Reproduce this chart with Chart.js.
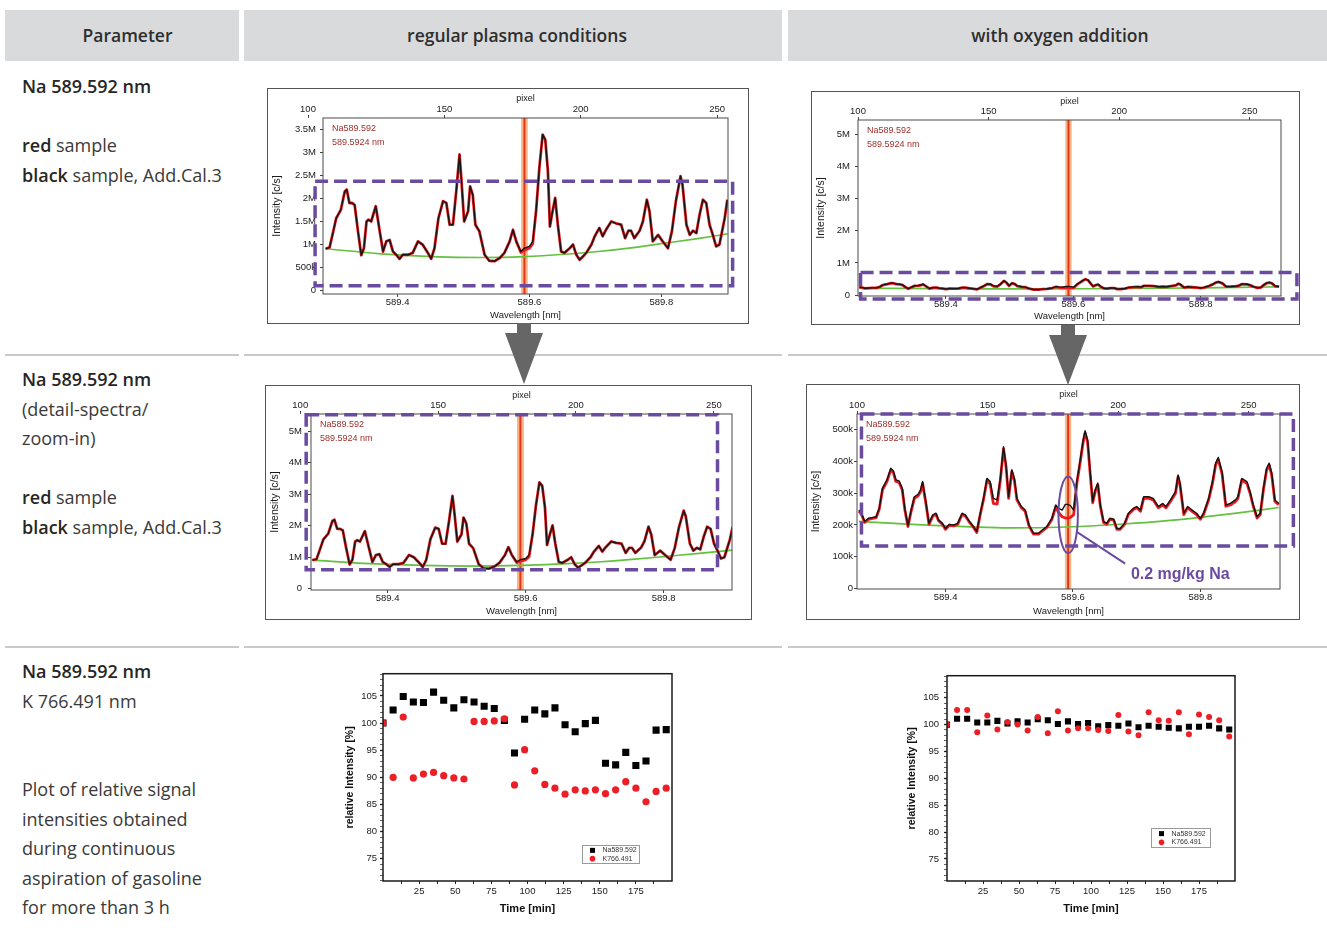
<!DOCTYPE html>
<html>
<head>
<meta charset="utf-8">
<title>Na 589.592 nm - regular plasma vs. oxygen addition</title>
<script src="https://cdn.jsdelivr.net/npm/chart.js@4.4.1/dist/chart.umd.min.js"></script>
<style>
  body { margin: 0; background: #fff; }
  #page { position: relative; width: 1327px; height: 931px; overflow: hidden; font-family: "Open Sans", sans-serif; color: #3a3a3a; }
  .head { position: absolute; top: 10px; height: 51px; line-height: 50px; background: #d9dadb; text-align: center; font-size: 17.5px; font-weight: 600; color: #2e2e2e; box-sizing: border-box; }
  .rule { position: absolute; height: 2px; background: #c9c9c9; }
  .cell { position: absolute; left: 22px; font-size: 18px; line-height: 29.5px; white-space: nowrap; }
  .cell b { font-weight: 600; color: #262626; }
  canvas { position: absolute; }
  svg { position: absolute; left: 0; top: 0; pointer-events: none; }
</style>
</head>
<body>
<div id="page">
  <div class="head" style="left:5px;width:234px;padding-left:11px">Parameter</div>
  <div class="head" style="left:244px;width:538px;padding-left:8px">regular plasma conditions</div>
  <div class="head" style="left:788px;width:539px;padding-left:5px">with oxygen addition</div>

  <div class="rule" style="left:5px;top:354px;width:234px"></div>
  <div class="rule" style="left:244px;top:354px;width:538px"></div>
  <div class="rule" style="left:788px;top:354px;width:539px"></div>
  <div class="rule" style="left:5px;top:646px;width:234px"></div>
  <div class="rule" style="left:244px;top:646px;width:538px"></div>
  <div class="rule" style="left:788px;top:646px;width:539px"></div>

  <div class="cell" style="top:72px"><b>Na 589.592 nm</b><br><br><b>red</b> sample<br><b>black</b> sample, Add.Cal.3</div>
  <div class="cell" style="top:365px"><b>Na 589.592 nm</b><br>(detail-spectra/<br>zoom-in)<br><br><b>red</b> sample<br><b>black</b> sample, Add.Cal.3</div>
  <div class="cell" style="top:657px"><b>Na 589.592 nm</b><br>K 766.491 nm<br><br><br>Plot of relative signal<br>intensities obtained<br>during continuous<br>aspiration of gasoline<br>for more than 3 h</div>

  <canvas id="p1" width="482" height="236" style="left:267px;top:88px"></canvas>
  <canvas id="p2" width="489" height="234" style="left:811px;top:91px"></canvas>
  <canvas id="p3" width="487" height="235" style="left:265px;top:385px"></canvas>
  <canvas id="p4" width="494" height="236" style="left:806px;top:384px"></canvas>
  <canvas id="p5" width="340" height="255" style="left:340px;top:665px"></canvas>
  <canvas id="p6" width="340" height="255" style="left:900px;top:665px"></canvas>

  <svg width="1327" height="931">
    <path d="M517 323H531V333H543L524 384L505 333H517Z" fill="#666"/>
    <path d="M1061 325H1075V335H1087L1068 385L1049 335H1061Z" fill="#666"/>
  </svg>
</div>

<script>
// regular plasma: wavelength [nm] and intensity [c/s]
const regWl = [589.291, 589.297, 589.302, 589.307, 589.314, 589.320, 589.323, 589.327, 589.331, 589.335,
  589.340, 589.345, 589.349, 589.353, 589.356, 589.360, 589.367, 589.373, 589.378, 589.383,
  589.388, 589.393, 589.398, 589.403, 589.408, 589.416, 589.423, 589.431, 589.438, 589.446,
  589.451, 589.456, 589.462, 589.469, 589.474, 589.479, 589.484, 589.489, 589.494, 589.497,
  589.501, 589.507, 589.510, 589.514, 589.518, 589.524, 589.532, 589.539, 589.547, 589.555,
  589.562, 589.570, 589.575, 589.580, 589.587, 589.592, 589.600, 589.605, 589.610, 589.615,
  589.620, 589.624, 589.628, 589.631, 589.635, 589.639, 589.643, 589.648, 589.653, 589.661,
  589.666, 589.671, 589.676, 589.681, 589.686, 589.694, 589.699, 589.706, 589.711, 589.716,
  589.724, 589.731, 589.739, 589.745, 589.750, 589.754, 589.759, 589.767, 589.772, 589.778,
  589.782, 589.787, 589.795, 589.802, 589.810, 589.816, 589.822, 589.829, 589.832, 589.838,
  589.843, 589.848, 589.853, 589.858, 589.863, 589.868, 589.873, 589.878, 589.883, 589.888,
  589.896, 589.900];
const regBlack = [0.91e6, 0.94e6, 1.25e6, 1.57e6, 1.75e6, 2.15e6, 2.19e6, 1.90e6, 1.90e6, 1.86e6,
  1.29e6, 0.77e6, 0.92e6, 1.50e6, 1.54e6, 1.50e6, 1.83e6, 1.29e6, 0.85e6, 1.07e6,
  1.10e6, 0.85e6, 0.78e6, 0.69e6, 0.78e6, 0.78e6, 0.82e6, 1.07e6, 1.00e6, 0.82e6,
  0.69e6, 0.92e6, 1.57e6, 1.94e6, 1.90e6, 1.43e6, 1.43e6, 2.15e6, 2.95e6, 2.37e6,
  1.50e6, 1.72e6, 2.26e6, 2.08e6, 1.43e6, 1.29e6, 0.78e6, 0.65e6, 0.64e6, 0.71e6,
  0.82e6, 1.07e6, 1.32e6, 1.07e6, 0.85e6, 0.92e6, 0.96e6, 1.07e6, 1.72e6, 2.66e6,
  3.38e6, 3.27e6, 2.58e6, 1.39e6, 1.72e6, 2.01e6, 1.43e6, 0.85e6, 0.82e6, 0.92e6,
  1.00e6, 0.78e6, 0.67e6, 0.74e6, 0.82e6, 1.00e6, 1.18e6, 1.36e6, 1.18e6, 1.32e6,
  1.50e6, 1.46e6, 1.43e6, 1.14e6, 1.30e6, 1.30e6, 1.14e6, 1.30e6, 1.50e6, 1.97e6,
  1.72e6, 1.07e6, 1.21e6, 1.07e6, 0.92e6, 1.29e6, 1.94e6, 2.48e6, 2.30e6, 1.43e6,
  1.21e6, 1.30e6, 1.25e6, 1.65e6, 1.97e6, 1.90e6, 1.43e6, 1.21e6, 0.96e6, 1.00e6,
  1.57e6, 1.97e6];
const regRed = [0.91e6, 0.94e6, 1.25e6, 1.57e6, 1.75e6, 2.15e6, 2.19e6, 1.90e6, 1.90e6, 1.86e6,
  1.29e6, 0.77e6, 0.92e6, 1.50e6, 1.54e6, 1.50e6, 1.83e6, 1.29e6, 0.85e6, 1.07e6,
  1.10e6, 0.85e6, 0.78e6, 0.69e6, 0.78e6, 0.78e6, 0.82e6, 1.07e6, 1.00e6, 0.82e6,
  0.69e6, 0.92e6, 1.57e6, 1.94e6, 1.90e6, 1.43e6, 1.43e6, 2.15e6, 2.95e6, 2.37e6,
  1.50e6, 1.72e6, 2.26e6, 2.08e6, 1.43e6, 1.29e6, 0.78e6, 0.65e6, 0.64e6, 0.71e6,
  0.82e6, 1.07e6, 1.32e6, 1.07e6, 0.83e6, 0.88e6, 0.92e6, 1.02e6, 1.72e6, 2.66e6,
  3.38e6, 3.27e6, 2.58e6, 1.39e6, 1.72e6, 2.01e6, 1.43e6, 0.85e6, 0.82e6, 0.92e6,
  1.00e6, 0.78e6, 0.67e6, 0.74e6, 0.82e6, 1.00e6, 1.18e6, 1.36e6, 1.18e6, 1.32e6,
  1.50e6, 1.46e6, 1.43e6, 1.14e6, 1.30e6, 1.30e6, 1.14e6, 1.30e6, 1.50e6, 1.97e6,
  1.72e6, 1.07e6, 1.21e6, 1.07e6, 0.92e6, 1.29e6, 1.94e6, 2.48e6, 2.30e6, 1.43e6,
  1.21e6, 1.30e6, 1.25e6, 1.65e6, 1.97e6, 1.90e6, 1.43e6, 1.21e6, 0.96e6, 1.00e6,
  1.57e6, 1.97e6];
const regBaseWl = [589.291, 589.375, 589.451, 589.527, 589.592, 589.653, 589.704, 589.754, 589.805, 589.855, 589.900];
const regBase = [0.91e6, 0.80e6, 0.74e6, 0.72e6, 0.74e6, 0.79e6, 0.85e6, 0.93e6, 1.03e6, 1.13e6, 1.23e6];

// with oxygen addition
const oxyWl = [589.264, 589.268, 589.273, 589.279, 589.284, 589.291, 589.296, 589.301, 589.308, 589.314,
  589.318, 589.322, 589.327, 589.332, 589.336, 589.341, 589.346, 589.351, 589.357, 589.361,
  589.364, 589.369, 589.374, 589.380, 589.385, 589.389, 589.395, 589.400, 589.406, 589.413,
  589.419, 589.426, 589.431, 589.437, 589.444, 589.449, 589.454, 589.460, 589.465, 589.470,
  589.475, 589.481, 589.486, 589.491, 589.495, 589.499, 589.504, 589.508, 589.512, 589.519,
  589.525, 589.531, 589.538, 589.546, 589.552, 589.559, 589.567, 589.573, 589.577, 589.583,
  589.588, 589.592, 589.596, 589.601, 589.606, 589.611, 589.616, 589.619, 589.623, 589.627,
  589.631, 589.635, 589.639, 589.643, 589.648, 589.653, 589.658, 589.664, 589.669, 589.674,
  589.681, 589.687, 589.695, 589.700, 589.706, 589.711, 589.719, 589.726, 589.734, 589.741,
  589.746, 589.753, 589.761, 589.765, 589.768, 589.774, 589.780, 589.787, 589.794, 589.800,
  589.805, 589.813, 589.819, 589.824, 589.828, 589.834, 589.840, 589.847, 589.855, 589.859,
  589.865, 589.873, 589.878, 589.883, 589.889, 589.894, 589.899, 589.904, 589.908, 589.912,
  589.917, 589.923];
const oxyBlack = [247e3, 237e3, 211e3, 221e3, 223e3, 226e3, 253e3, 316e3, 342e3, 379e3,
  371e3, 342e3, 339e3, 316e3, 253e3, 198e3, 247e3, 289e3, 297e3, 311e3,
  337e3, 274e3, 205e3, 232e3, 237e3, 216e3, 205e3, 189e3, 202e3, 200e3,
  205e3, 237e3, 232e3, 213e3, 195e3, 179e3, 232e3, 289e3, 347e3, 337e3,
  284e3, 279e3, 347e3, 447e3, 389e3, 289e3, 374e3, 347e3, 284e3, 258e3,
  247e3, 200e3, 174e3, 174e3, 184e3, 195e3, 221e3, 263e3, 253e3, 247e3,
  265e3, 265e3, 261e3, 247e3, 337e3, 400e3, 468e3, 497e3, 468e3, 368e3,
  274e3, 311e3, 332e3, 263e3, 211e3, 205e3, 221e3, 218e3, 189e3, 189e3,
  205e3, 237e3, 253e3, 258e3, 247e3, 289e3, 289e3, 284e3, 258e3, 268e3,
  258e3, 279e3, 305e3, 358e3, 332e3, 237e3, 258e3, 247e3, 237e3, 221e3,
  237e3, 284e3, 337e3, 395e3, 413e3, 368e3, 263e3, 268e3, 279e3, 289e3,
  347e3, 337e3, 305e3, 263e3, 226e3, 237e3, 316e3, 379e3, 395e3, 363e3,
  279e3, 268e3];
const oxyRed = [244e3, 234e3, 208e3, 218e3, 220e3, 223e3, 250e3, 311e3, 337e3, 373e3,
  366e3, 337e3, 334e3, 311e3, 249e3, 195e3, 243e3, 284e3, 292e3, 306e3,
  331e3, 270e3, 202e3, 228e3, 233e3, 213e3, 202e3, 186e3, 199e3, 197e3,
  202e3, 233e3, 228e3, 210e3, 192e3, 176e3, 228e3, 284e3, 341e3, 330e3,
  268e3, 266e3, 341e3, 440e3, 383e3, 284e3, 368e3, 341e3, 279e3, 254e3,
  243e3, 197e3, 171e3, 171e3, 181e3, 192e3, 218e3, 258e3, 240e3, 226e3,
  222e3, 221e3, 224e3, 232e3, 330e3, 393e3, 461e3, 490e3, 461e3, 362e3,
  270e3, 306e3, 327e3, 259e3, 208e3, 202e3, 218e3, 215e3, 186e3, 186e3,
  202e3, 233e3, 249e3, 254e3, 243e3, 284e3, 284e3, 279e3, 254e3, 263e3,
  254e3, 274e3, 300e3, 352e3, 327e3, 233e3, 254e3, 243e3, 233e3, 218e3,
  233e3, 279e3, 331e3, 389e3, 407e3, 362e3, 259e3, 263e3, 274e3, 284e3,
  341e3, 331e3, 300e3, 259e3, 222e3, 233e3, 311e3, 373e3, 389e3, 357e3,
  274e3, 264e3];
const oxyBaseWl = [589.264, 589.32, 589.38, 589.44, 589.50, 589.56, 589.62, 589.68, 589.74, 589.80, 589.86, 589.923];
const oxyBase = [211e3, 205e3, 199e3, 194e3, 191e3, 192e3, 196e3, 203e3, 212e3, 224e3, 238e3, 255e3];

// relative intensity [%] during 3 h of gasoline aspiration
const timeMin = [0, 7, 14, 21, 28, 35, 42, 49, 56, 63, 70, 77, 84, 91, 98, 105, 112, 119, 126, 133, 140, 147, 154, 161, 168, 175, 182, 189, 196];
const regNa = [100, 102.4, 104.9, 103.9, 103.8, 105.7, 104.2, 102.8, 104.3, 103.9, 103.1, 102.7, 100.5, 94.5, 100.7, 102.4, 101.7, 102.8, 99.7, 98.4, 99.9, 100.5, 92.6, 92.3, 94.6, 92.2, 93.0, 98.7, 98.8];
const regK = [100, 90.0, 101.1, 89.9, 90.6, 90.9, 90.3, 89.9, 89.7, 100.3, 100.3, 100.4, 100.8, 88.6, 95.1, 91.2, 88.7, 88.0, 86.9, 87.7, 87.5, 87.7, 87.0, 87.7, 89.2, 88.0, 85.5, 87.4, 88.0];
const oxyNa = [100, 101.1, 101.1, 100.4, 100.4, 100.7, 100.2, 100.6, 100.4, 101.0, 100.8, 100.1, 100.6, 100.1, 100.3, 99.7, 99.9, 99.8, 100.2, 99.5, 99.8, 99.6, 99.4, 99.3, 99.6, 99.6, 99.8, 99.3, 99.1];
const oxyK = [100, 102.7, 102.7, 98.6, 101.7, 99.1, 100.5, 100.0, 98.9, 101.4, 98.4, 102.5, 98.9, 99.3, 99.3, 99.0, 98.8, 101.8, 98.7, 98.0, 102.3, 100.8, 100.7, 102.3, 98.2, 101.9, 101.4, 100.8, 97.8];

// tick labels
const wlTicks = [589.4, 589.6, 589.8];
const pixelTicks = [100, 150, 200, 250];
const ticks35M = [0, 0.5e6, 1e6, 1.5e6, 2e6, 2.5e6, 3e6, 3.5e6];
const ticks5M = [0, 1e6, 2e6, 3e6, 4e6, 5e6];
const ticks500k = [0, 1e5, 2e5, 3e5, 4e5, 5e5];
const timeTicks = [25, 50, 75, 100, 125, 150, 175];
const relTicks = [75, 80, 85, 90, 95, 100, 105];

const FONT = "'Liberation Sans', Arial, Helvetica, sans-serif";
const PURPLE = '#6a4b9f';
Chart.defaults.font.family = FONT;
Chart.defaults.color = '#222';

function pts(xs, ys) {
  return xs.map((x, i) => ({ x: x, y: ys[i] }));
}

function fmtInt(v) {
  if (v === 0) return '0';
  if (v >= 1e6) return (v / 1e6) + 'M';
  return (v / 1e3) + 'k';
}

// line marker, labels, frames and the purple highlights
const marks = {
  id: 'marks',
  beforeDatasetsDraw(chart, args, o) {
    const { ctx, chartArea: a } = chart;
    const x = chart.scales.x;
    ctx.save();
    if (o.band) {
      const b0 = x.getPixelForValue(o.band[0]), b1 = x.getPixelForValue(o.band[1]);
      ctx.fillStyle = '#f9b684';
      ctx.fillRect(b0, a.top, b1 - b0, a.bottom - a.top);
      const xl = x.getPixelForValue(o.line);
      ctx.strokeStyle = '#e5341d';
      ctx.lineWidth = 2;
      ctx.beginPath();
      ctx.moveTo(xl, a.top);
      ctx.lineTo(xl, a.bottom);
      ctx.stroke();
    }
    if (o.labels) {
      ctx.fillStyle = '#a1302b';
      ctx.font = '9px ' + FONT;
      ctx.textBaseline = 'middle';
      o.labels.forEach((t, i) => ctx.fillText(t, a.left + 9, a.top + 11 + 14 * i));
    }
    ctx.restore();
  },
  afterDraw(chart, args, o) {
    const { ctx, chartArea: a } = chart;
    const x = chart.scales.x, y = chart.scales.y;
    ctx.save();
    ctx.strokeStyle = o.frameColor || '#4a4a4a';
    ctx.lineWidth = o.frameWidth || 1;
    ctx.strokeRect(a.left, a.top, a.right - a.left, a.bottom - a.top);
    if (o.outer) {
      ctx.strokeStyle = '#555';
      ctx.lineWidth = 1;
      ctx.strokeRect(0.5, 0.5, chart.width - 1, chart.height - 1);
    }
    if (o.box) {
      const l = x.getPixelForValue(o.box[0]), r = x.getPixelForValue(o.box[1]);
      const b = y.getPixelForValue(o.box[2]), t = y.getPixelForValue(o.box[3]);
      ctx.strokeStyle = PURPLE;
      ctx.lineWidth = 3.5;
      ctx.setLineDash([13, 6]);
      ctx.strokeRect(l, t, r - l, b - t);
      ctx.setLineDash([]);
    }
    if (o.ellipse) {
      const e = o.ellipse;
      const px = x.getPixelForValue(e[0]), py = y.getPixelForValue(e[1]);
      const rx = Math.abs(x.getPixelForValue(e[0] + e[2]) - px);
      const ry = Math.abs(y.getPixelForValue(e[1] + e[3]) - py);
      ctx.strokeStyle = PURPLE;
      ctx.lineWidth = 2;
      ctx.beginPath();
      ctx.ellipse(px, py, rx, ry, 0, 0, 2 * Math.PI);
      ctx.stroke();
    }
    if (o.pointer) {
      const p = o.pointer;
      ctx.strokeStyle = PURPLE;
      ctx.lineWidth = 2;
      ctx.beginPath();
      ctx.moveTo(x.getPixelForValue(p[0]), y.getPixelForValue(p[1]));
      ctx.lineTo(x.getPixelForValue(p[2]), y.getPixelForValue(p[3]));
      ctx.stroke();
    }
    if (o.note) {
      ctx.fillStyle = PURPLE;
      ctx.font = 'bold 16px ' + FONT;
      ctx.textBaseline = 'middle';
      ctx.fillText(o.note.text, x.getPixelForValue(o.note.x), y.getPixelForValue(o.note.y));
    }
    ctx.restore();
  }
};

// small boxed legend inside the drift plots
const boxLegend = {
  id: 'boxLegend',
  afterDraw(chart, args, o) {
    if (!o.w) return;
    const { ctx, chartArea: a } = chart;
    const l = Math.round(a.right - o.dx - o.w) + 0.5, t = Math.round(a.bottom - o.dy - o.h) + 0.5;
    ctx.save();
    ctx.fillStyle = '#fff';
    ctx.fillRect(l, t, o.w, o.h);
    ctx.strokeStyle = '#9a9a9a';
    ctx.lineWidth = 1;
    ctx.strokeRect(l, t, o.w, o.h);
    ctx.font = '7px ' + FONT;
    ctx.textBaseline = 'middle';
    chart.data.datasets.forEach((d, i) => {
      const cy = t + o.h * (i === 0 ? 0.27 : 0.73), cx = l + 10;
      ctx.fillStyle = d.backgroundColor;
      if (d.pointStyle === 'rect') {
        ctx.fillRect(cx - 2.5, cy - 2.5, 5, 5);
      } else {
        ctx.beginPath();
        ctx.arc(cx, cy, 2.8, 0, 2 * Math.PI);
        ctx.fill();
      }
      ctx.fillStyle = '#333';
      ctx.fillText(d.label, l + 20, cy);
    });
    ctx.restore();
  }
};

function spectrum(s) {
  const ar = s.area;
  const tickFont = { family: FONT, size: 9.5 };
  return new Chart(document.getElementById(s.id), {
    type: 'line',
    data: {
      datasets: [
        { data: pts(s.wl, s.black), borderColor: '#141414', borderWidth: 1.4, order: 1 },
        { data: pts(s.wl, s.red), borderColor: '#ea1a1f', borderWidth: 2.8, order: 2 },
        { data: pts(s.baseWl, s.base), borderColor: '#62c13d', borderWidth: 1.7, cubicInterpolationMode: 'monotone', order: 3 }
      ]
    },
    options: {
      responsive: false,
      animation: false,
      events: [],
      layout: { padding: { left: 0, top: 0, right: s.w - ar.right, bottom: 0 } },
      elements: { point: { radius: 0 }, line: { tension: 0, borderJoinStyle: 'round' } },
      plugins: {
        legend: { display: false },
        tooltip: { enabled: false },
        marks: Object.assign({ outer: true, band: [589.5874, 589.5974], line: 589.5924, labels: ['Na589.592', '589.5924 nm'] }, s.marks)
      },
      scales: {
        x: {
          type: 'linear', position: 'bottom', min: s.x[0], max: s.x[1],
          afterBuildTicks: a => { a.ticks = wlTicks.map(v => ({ value: v })); },
          afterFit: a => { a.height = s.h - ar.bottom; },
          grid: { drawOnChartArea: false, tickLength: 3, tickColor: '#444' },
          border: { display: false },
          ticks: { autoSkip: false, maxRotation: 0, padding: 0, font: tickFont, color: '#1a1a1a', callback: v => v.toFixed(1) },
          title: { display: true, text: 'Wavelength [nm]', font: { family: FONT, size: 9.5 }, color: '#1a1a1a', padding: { top: 0, bottom: 3 } }
        },
        x2: {
          type: 'linear', position: 'top', min: s.px[0], max: s.px[1],
          afterBuildTicks: a => { a.ticks = pixelTicks.map(v => ({ value: v })); },
          afterFit: a => { a.height = ar.top; },
          grid: { drawOnChartArea: false, tickLength: 3, tickColor: '#444' },
          border: { display: false },
          ticks: { autoSkip: false, maxRotation: 0, padding: 0, font: tickFont, color: '#1a1a1a' },
          title: { display: true, text: 'pixel', font: { family: FONT, size: 9 }, color: '#1a1a1a', padding: { top: 5, bottom: 0 } }
        },
        y: {
          min: s.y[0], max: s.y[1],
          afterBuildTicks: a => { a.ticks = s.yTicks.map(v => ({ value: v })); },
          afterFit: a => { a.width = ar.left; },
          grid: { drawOnChartArea: false, tickLength: 3, tickColor: '#444' },
          border: { display: false },
          ticks: { autoSkip: false, padding: s.yPad, font: tickFont, color: '#1a1a1a', callback: fmtInt },
          title: { display: true, text: 'Intensity [c/s]', font: { family: FONT, size: 10.5 }, color: '#1a1a1a', padding: { top: 3.5, bottom: 0 } }
        }
      }
    },
    plugins: [marks, boxLegend]
  });
}

function drift(d) {
  const ar = d.area;
  return new Chart(document.getElementById(d.id), {
    type: 'scatter',
    data: {
      datasets: [
        { label: 'Na589.592', data: pts(timeMin, d.na), pointStyle: 'rect', pointRadius: d.sq, backgroundColor: '#000', borderColor: '#000', borderWidth: 0, order: 2 },
        { label: 'K766.491', data: pts(timeMin, d.k), pointStyle: 'circle', pointRadius: d.dot, backgroundColor: '#ec1f26', borderColor: '#ec1f26', borderWidth: 0, order: 1 }
      ]
    },
    options: {
      responsive: false,
      animation: false,
      events: [],
      layout: { padding: { left: 0, top: ar.top, right: d.w - ar.right, bottom: 0 } },
      plugins: {
        legend: { display: false },
        tooltip: { enabled: false },
        marks: { frameWidth: 1.5, frameColor: '#1a1a1a' },
        boxLegend: d.legend
      },
      scales: {
        x: {
          type: 'linear', min: 0, max: 200,
          afterBuildTicks: a => {
            const t = [];
            for (let v = 12.5; v < 200; v += 12.5) t.push({ value: v });
            a.ticks = t;
          },
          afterFit: a => { a.height = d.h - ar.bottom; },
          grid: { drawOnChartArea: false, tickLength: 3, tickColor: '#222' },
          border: { display: false },
          ticks: { autoSkip: false, maxRotation: 0, padding: 1.3, font: { size: 9.5 }, color: '#1a1a1a', callback: v => timeTicks.includes(v) ? String(v) : '' },
          title: { display: true, text: 'Time [min]', font: { size: 11, weight: 'bold' }, color: '#111', padding: { top: 0, bottom: 4.4 } }
        },
        y: {
          type: 'linear', min: 70.9, max: 109.1,
          afterBuildTicks: a => {
            const t = [];
            for (let v = 71; v <= 109; v++) t.push({ value: v });
            a.ticks = t;
          },
          afterFit: a => { a.width = ar.left; },
          grid: { drawOnChartArea: false, tickLength: 3, tickColor: '#222', tickWidth: c => relTicks.includes(c.tick.value) ? 1.3 : 0.7 },
          border: { display: false },
          ticks: { autoSkip: false, padding: d.yPad, font: { size: 9.5 }, color: '#1a1a1a', callback: v => relTicks.includes(v) ? String(v) : '' },
          title: { display: true, text: 'relative Intensity [%]', font: { size: 10.5, weight: 'bold' }, color: '#111', padding: { top: d.titlePad, bottom: 0 } }
        }
      }
    },
    plugins: [marks, boxLegend]
  });
}

spectrum({ id: 'p1', w: 482, h: 236, area: { left: 56, top: 30, right: 461, bottom: 206 },
  wl: regWl, black: regBlack, red: regRed, baseWl: regBaseWl, base: regBase,
  x: [589.287, 589.901], px: [105.5, 254], y: [-70e3, 3.74e6], yTicks: ticks35M, yPad: 4,
  marks: { box: [589.275, 589.908, 0.11e6, 2.37e6] } });

spectrum({ id: 'p2', w: 489, h: 234, area: { left: 47, top: 29, right: 470, bottom: 205 },
  wl: oxyWl, black: oxyBlack, red: oxyRed, baseWl: oxyBaseWl, base: oxyBase,
  x: [589.262, 589.926], px: [100, 262], y: [-30e3, 5.45e6], yTicks: ticks5M, yPad: 5,
  marks: { box: [589.266, 589.951, -0.12e6, 0.70e6] } });

spectrum({ id: 'p3', w: 487, h: 235, area: { left: 46, top: 29, right: 467, bottom: 205 },
  wl: regWl, black: regBlack, red: regRed, baseWl: regBaseWl, base: regBase,
  x: [589.289, 589.899], px: [103.9, 256.6], y: [-40e3, 5.55e6], yTicks: ticks5M, yPad: 6,
  marks: { box: [589.282, 589.878, 0.60e6, 5.53e6] } });

spectrum({ id: 'p4', w: 494, h: 236, area: { left: 51, top: 30, right: 474, bottom: 205 },
  wl: oxyWl, black: oxyBlack, red: oxyRed, baseWl: oxyBaseWl, base: oxyBase,
  x: [589.261, 589.925], px: [100, 262], y: [-2e3, 550e3], yTicks: ticks500k, yPad: 1,
  marks: {
    box: [589.268, 589.946, 134e3, 550e3],
    ellipse: [589.5925, 232e3, 0.0152, 121e3],
    pointer: [589.606, 178e3, 589.682, 78e3],
    note: { text: '0.2 mg/kg Na', x: 589.691, y: 43e3 }
  } });

drift({ id: 'p5', na: regNa, k: regK, w: 340, h: 255, area: { left: 43, top: 5, right: 332, bottom: 216 },
  sq: 5, dot: 3.6, yPad: 3, titlePad: 3.7, legend: { dx: 33, dy: 18, w: 57, h: 18 } });

drift({ id: 'p6', na: oxyNa, k: oxyK, w: 340, h: 255, area: { left: 47, top: 5, right: 335, bottom: 216 },
  sq: 4.3, dot: 3, yPad: 5, titlePad: 5.4, legend: { dx: 25, dy: 34, w: 59, h: 19 } });
</script>
</body>
</html>
